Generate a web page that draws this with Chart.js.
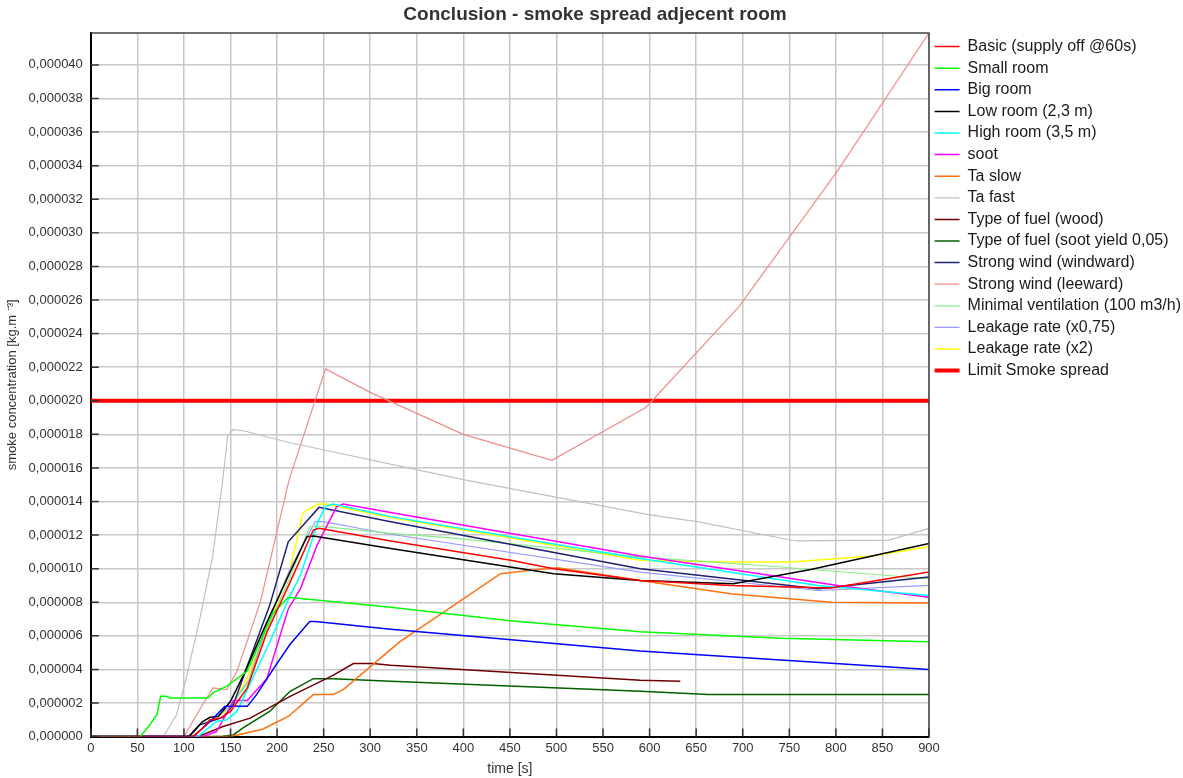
<!DOCTYPE html>
<html>
<head>
<meta charset="utf-8">
<script src="https://cdn.jsdelivr.net/npm/chart.js@4.4.1/dist/chart.umd.min.js"></script>
<style>
html,body{margin:0;padding:0;background:#fff}
</style>
</head>
<body>
<canvas id="smokeChart" width="1183" height="778"></canvas>
<script>
// values: [time s, concentration in 1e-6 kg/m3]
const basic=[[0,0],[110,0],[120,0.5],[128,1.0],[139,1.1],[150,1.5],[168,2.9],[189,6.2],[214,9.2],[239,12.3],[245,12.4],[322,11.65],[451,10.5],[497,10.0],[551,9.6],[590,9.3],[687,9.0],[795,8.85],[900,9.8]]
const smallRoom=[[0,0],[53,0],[62,0.6],[71,1.3],[75,2.4],[81,2.4],[85,2.3],[126,2.3],[131,2.6],[146,3.0],[168,3.9],[195,7.3],[212,8.3],[322,7.7],[450,6.9],[590,6.25],[741,5.85],[900,5.65]]
const bigRoom=[[0,0],[110,0],[128,0.9],[144,1.8],[168,1.8],[178,2.5],[198,4.2],[214,5.5],[235,6.85],[241,6.85],[322,6.4],[590,5.1],[900,4.0]]
const lowRoom=[[0,0],[105,0],[110,0.3],[120,0.9],[128,1.15],[137,1.2],[150,2.1],[166,3.9],[189,6.8],[214,9.8],[232,11.9],[239,11.95],[322,11.2],[497,9.7],[590,9.3],[690,9.1],[773,9.95],[900,11.5]]
const highRoom=[[0,0],[115,0],[135,0.9],[146,1.0],[157,1.5],[174,3.5],[192,5.6],[214,8.4],[225,9.6],[244,12.8],[252,13.7],[260,13.85],[322,13.1],[590,10.6],[781,9.0],[900,8.4]]
const soot=[[0,0],[120,0],[135,0.3],[150,1.8],[153,2.15],[168,2.15],[189,3.45],[212,7.6],[225,8.8],[243,11.4],[264,13.7],[271,13.85],[322,13.35],[590,10.75],[802,9.0],[900,8.3]]
const taSlow=[[0,0],[150,0],[185,0.45],[212,1.2],[239,2.5],[260,2.5],[271,2.8],[332,5.65],[440,9.7],[472,9.9],[501,10.05],[590,9.3],[687,8.5],[795,8.0],[900,7.95]]
const taFast=[[0,0],[78,0],[92,1.3],[103,3.6],[117,7.0],[131,10.8],[141,15.0],[147,17.9],[153,18.3],[165,18.2],[214,17.5],[400,15.3],[600,13.2],[651,12.8],[757,11.65],[857,11.7],[900,12.4]]
const fuelWood=[[0,0],[115,0],[142,0.6],[171,1.1],[214,2.4],[260,3.65],[282,4.35],[303,4.35],[322,4.25],[590,3.35],[633,3.3]]
const fuelSoot=[[0,0],[140,0],[153,0.1],[163,0.5],[192,1.5],[214,2.7],[239,3.45],[260,3.45],[322,3.3],[590,2.7],[663,2.5],[900,2.5]]
const windward=[[0,0],[106,0],[117,0.7],[142,1.15],[153,1.9],[168,4.2],[192,7.8],[212,11.6],[245,13.65],[322,12.8],[590,10.0],[781,8.8],[900,9.5]]
const leeward=[[0,0],[100,0],[120,1.9],[131,2.9],[146,2.8],[157,3.9],[182,8.0],[213,15.3],[252,21.9],[300,20.5],[400,18.0],[495,16.45],[596,19.6],[696,25.6],[802,33.7],[900,41.9]]
const minVent=[[0,0],[110,0],[130,1.0],[150,1.8],[170,3.3],[190,6.5],[214,9.5],[235,12.5],[243,12.55],[322,12.1],[393,11.8],[590,10.7],[741,10.1],[900,9.4]]
const leak075=[[0,0],[110,0],[130,1.0],[150,1.8],[170,3.4],[190,6.8],[214,10.0],[241,12.8],[250,12.8],[322,12.05],[590,9.8],[781,8.7],[900,9.0]]
const leak2=[[0,0],[110,0],[130,1.0],[150,1.7],[168,3.5],[189,6.4],[214,10.0],[228,13.35],[244,13.85],[252,13.85],[322,13.05],[590,10.5],[687,10.4],[752,10.4],[838,10.75],[900,11.3]]
const limit=[[0,20],[900,20]]

const seriesNames=["Basic (supply off @60s)","Small room","Big room","Low room (2,3 m)","High room (3,5 m)","soot","Ta slow","Ta fast","Type of fuel (wood)","Type of fuel (soot yield 0,05)","Strong wind (windward)","Strong wind (leeward)","Minimal ventilation (100 m3/h)","Leakage rate (x0,75)","Leakage rate (x2)","Limit Smoke spread"]
const seriesData=[basic,smallRoom,bigRoom,lowRoom,highRoom,soot,taSlow,taFast,fuelWood,fuelSoot,windward,leeward,minVent,leak075,leak2,limit]

const xMax=900, xStep=50
const yMax=41.9, yStep=2

// look of each line
const colors=["#ff0000","#00ff00","#0000ff","#000000","#00ffff","#ff00ff","#ff7010","#c0c0c0","#700000","#006000","#202070","#f08c8c","#88ee88","#9999ff","#ffff00","#ff0000"]
const widths=[1.5,1.5,1.5,1.5,1.5,1.5,1.5,1.2,1.5,1.5,1.5,1.2,1.2,1.2,1.5,4]

// frame + small inner ticks like the original plot
const frame={
id:"frame",
afterDraw(c){
const a=c.chartArea, ctx=c.ctx
ctx.save()
ctx.strokeStyle="#444"
ctx.lineWidth=1.5
ctx.beginPath()
ctx.moveTo(a.left,a.top);ctx.lineTo(a.right,a.top);ctx.lineTo(a.right,a.bottom)
ctx.stroke()
ctx.strokeStyle="#333"
ctx.beginPath()
c.scales.y.ticks.forEach(t=>{
let py=c.scales.y.getPixelForValue(t.value)
ctx.moveTo(a.left,py);ctx.lineTo(a.left+8,py)
})
c.scales.x.ticks.forEach(t=>{
let px=c.scales.x.getPixelForValue(t.value)
ctx.moveTo(px,a.bottom);ctx.lineTo(px,a.bottom-8)
})
ctx.stroke()
ctx.restore()
}
}

const datasets=seriesData.map((d,i)=>({
label:seriesNames[i],
data:d.map(p=>({x:p[0],y:p[1]})),
borderColor:colors[i],
backgroundColor:colors[i],
borderWidth:widths[i],
pointRadius:0,
showLine:true,
tension:0
}))

new Chart(document.getElementById("smokeChart"),{
type:"scatter",
data:{datasets:datasets},
plugins:[frame],
options:{
responsive:false,
animation:false,
layout:{padding:{top:0,right:-8,bottom:0,left:-1}},
plugins:{
title:{display:true,text:"Conclusion - smoke spread adjecent room",color:"#333",
font:{family:"Liberation Sans",size:19,weight:"bold"},padding:{top:3.6,bottom:6.6}},
legend:{position:"right",align:"start",fullSize:false,
labels:{usePointStyle:true,pointStyle:"line",pointStyleWidth:25,padding:5.6,color:"#1a1a1a",
font:{family:"Liberation Sans",size:16}}},
tooltip:{enabled:false}
},
scales:{
x:{type:"linear",min:0,max:xMax,
ticks:{stepSize:xStep,color:"#333",padding:4,font:{family:"Liberation Sans",size:13}},
grid:{color:"#c8c8c8",lineWidth:1.5,drawTicks:false},
border:{color:"#000",width:2},
title:{display:true,text:"time [s]",color:"#333",font:{family:"Liberation Sans",size:14},padding:{top:1,bottom:0}}
},
y:{type:"linear",min:0,max:yMax,
afterBuildTicks(s){s.ticks=s.ticks.filter(t=>Math.abs(t.value/yStep-Math.round(t.value/yStep))<1e-6)},
ticks:{stepSize:yStep,color:"#333",padding:8,font:{family:"Liberation Sans",size:13},
callback:v=>(v/1e6).toFixed(6).replace(".",",")},
grid:{color:"#c8c8c8",lineWidth:1.5,drawTicks:false},
border:{color:"#000",width:2},
title:{display:true,text:"smoke concentration [kg.m ⁻³]",color:"#333",font:{family:"Liberation Sans",size:13},padding:{top:6,bottom:0}}
}
}
}
})
</script>
</body>
</html>
